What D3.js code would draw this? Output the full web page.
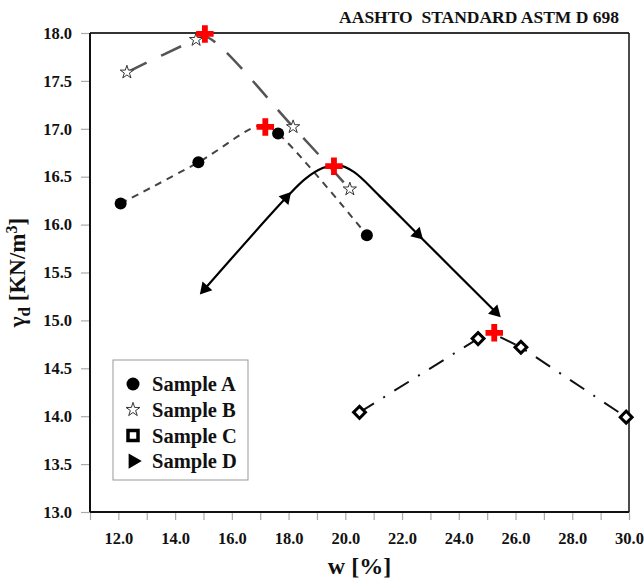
<!DOCTYPE html>
<html>
<head>
<meta charset="utf-8">
<script src="https://cdn.jsdelivr.net/npm/d3@7"></script>
<style>
  body { margin: 0; background: #fff; }
</style>
</head>
<body>
<div id="chart"></div>
<script>
// measured points (w %, dry unit weight kN/m3)
const sampleNames = ["Sample A", "Sample B", "Sample C", "Sample D"];
const wA = [12.08, 14.82, 17.63, 20.76];
const gA = [16.22, 16.65, 16.95, 15.89];
const wB = [12.30, 14.74, 18.16, 20.16];
const gB = [17.59, 17.93, 17.02, 16.37];
const wC = [20.50, 24.68, 26.19, 29.90];
const gC = [14.04, 14.81, 14.72, 13.99];
const wD = [15.05, 17.91, 22.55, 25.29];
const gD = [15.33, 16.28, 15.90, 15.09];

// compaction curves
const curveAw = [12.08, 14.82, 17.10, 17.63, 20.76];
const curveAg = [16.22, 16.65, 17.04, 16.95, 15.89];
const curveBw = [12.30, 14.74, 15.10, 18.16, 20.16];
const curveBg = [17.59, 17.93, 17.96, 17.02, 16.37];
const curveCw = [20.50, 24.68, 25.15, 26.19, 29.90];
const curveCg = [14.04, 14.81, 14.87, 14.72, 13.99];
const curveDw = [15.05, 17.91, 18.60, 19.20, 19.75, 20.30, 21.20, 22.55, 25.29];
const curveDg = [15.33, 16.28, 16.48, 16.59, 16.62, 16.55, 16.30, 15.90, 15.09];

// optimum points (red crosses)
const peakW = [17.18, 15.05, 25.25, 19.60];
const peakG = [17.02, 17.99, 14.87, 16.61];

const xTicks = d3.range(11, 30.01, 1);
const xLabels = d3.range(12, 30.01, 2);
const yTicks = d3.range(13, 18.01, 0.5);

const FONT = '"Liberation Serif", Tinos, "Times New Roman", Times, serif';

const margin = { top: 33, right: 15, bottom: 67, left: 90 },
    width = 644 - margin.left - margin.right,
    height = 579 - margin.top - margin.bottom;

const svg = d3.select("#chart")
    .append("svg")
    .attr("width", 644)
    .attr("height", 579)
    .attr("font-family", FONT)
    .attr("font-weight", "bold");

const g = svg.append("g")
    .attr("transform", `translate(${margin.left},${margin.top})`);

const x = d3.scaleLinear().domain([11, 30]).range([0, width]);
const y = d3.scaleLinear().domain([13, 18]).range([height, 0]);

// axes
const xAxis = d3.axisBottom(x).tickValues(xTicks).tickSize(8)
    .tickFormat(d => xLabels.includes(d) ? d3.format(".1f")(d) : "");
const yAxis = d3.axisLeft(y).tickValues(yTicks).tickSize(9).tickFormat(d3.format(".1f"));

const gx = g.append("g").attr("transform", `translate(0,${height})`).call(xAxis);
const gy = g.append("g").call(yAxis);
[gx, gy].forEach(a => {
    a.attr("font-family", FONT).attr("font-size", 16);
    a.select(".domain").remove();
    a.selectAll(".tick line").attr("stroke", "#aaa").attr("stroke-width", 1.2);
    a.selectAll(".tick text").attr("fill", "#111")
        .style("font-family", FONT).style("font-weight", "bold").style("font-size", "16.5px");
});
gx.selectAll(".tick text").attr("dy", "1.3em");
gy.selectAll(".tick text").attr("x", -18);

// frame
g.append("line").attr("x1", 0).attr("x2", width).attr("y1", 0).attr("y2", 0)
    .attr("stroke", "#333").attr("stroke-width", 2);
g.append("line").attr("x1", width).attr("x2", width).attr("y1", 0).attr("y2", height)
    .attr("stroke", "#111").attr("stroke-width", 1.5);
g.append("line").attr("x1", 0).attr("x2", width).attr("y1", height).attr("y2", height)
    .attr("stroke", "#111").attr("stroke-width", 2);
g.append("line").attr("x1", 0).attr("x2", 0).attr("y1", 0).attr("y2", height)
    .attr("stroke", "#111").attr("stroke-width", 2);

// lines
const zip = (ws, gs) => ws.map((w, i) => [w, gs[i]]);
const line = d3.line().x(d => x(d[0])).y(d => y(d[1]));
const smooth = d3.line().x(d => x(d[0])).y(d => y(d[1])).curve(d3.curveCatmullRom.alpha(0.5));

g.append("path").datum(zip(curveAw, curveAg)).attr("d", smooth)
    .attr("fill", "none").attr("stroke", "#444").attr("stroke-width", 2)
    .attr("stroke-dasharray", "7,6");
g.append("path").datum(zip(curveBw, curveBg)).attr("d", smooth)
    .attr("fill", "none").attr("stroke", "#555").attr("stroke-width", 2.5)
    .attr("stroke-dasharray", "22,16");
g.append("path").datum(zip(curveCw, curveCg)).attr("d", line)
    .attr("fill", "none").attr("stroke", "#111").attr("stroke-width", 2)
    .attr("stroke-dasharray", "17,11,2,11");
const ptsD = zip(curveDw, curveDg);
g.append("path").datum(ptsD).attr("d", smooth)
    .attr("fill", "none").attr("stroke", "#000").attr("stroke-width", 2.2);

// markers
g.selectAll(".ptA").data(zip(wA, gA)).join("circle")
    .attr("cx", d => x(d[0])).attr("cy", d => y(d[1])).attr("r", 6)
    .attr("fill", "#000");

const star = d3.symbol().type(d3.symbolStar).size(55);
g.selectAll(".ptB").data(zip(wB, gB)).join("path")
    .attr("d", star)
    .attr("transform", d => `translate(${x(d[0])},${y(d[1])})`)
    .attr("fill", "#fff").attr("stroke", "#333").attr("stroke-width", 1);

const square = d3.symbol().type(d3.symbolSquare).size(70);
g.selectAll(".ptC").data(zip(wC, gC)).join("path")
    .attr("d", square)
    .attr("transform", d => `translate(${x(d[0])},${y(d[1])}) rotate(45)`)
    .attr("fill", "#fff").attr("stroke", "#000").attr("stroke-width", 3);

// triangles follow the direction of the curve
const tri = d3.symbol().type(d3.symbolTriangle).size(75);
function angleAt(w) {
    const i = curveDw.indexOf(w);
    const a = i === 0 ? ptsD[1] : ptsD[i - 1];
    const b = i === 0 ? ptsD[0] : ptsD[i];
    return Math.atan2(y(b[1]) - y(a[1]), x(b[0]) - x(a[0])) * 180 / Math.PI;
}
g.selectAll(".ptD").data(zip(wD, gD)).join("path")
    .attr("d", tri)
    .attr("transform", d => `translate(${x(d[0])},${y(d[1])}) rotate(${angleAt(d[0]) + 90})`)
    .attr("fill", "#000");

// optimum crosses
const cross = d3.symbol().type(d3.symbolCross).size(170);
g.selectAll(".peak").data(zip(peakW, peakG)).join("path")
    .attr("d", cross)
    .attr("transform", d => `translate(${x(d[0])},${y(d[1])})`)
    .attr("fill", "#ff0000");

// legend
const legend = svg.append("g").attr("transform", "translate(113,360)");
legend.append("rect").attr("width", 135).attr("height", 120)
    .attr("fill", "#fff").attr("stroke", "#999").attr("stroke-width", 1);
const rows = legend.selectAll(".row").data(sampleNames).join("g")
    .attr("transform", (d, i) => `translate(20,${24 + i * 25.7})`);
rows.filter((d, i) => i === 0).append("circle").attr("r", 6.5).attr("fill", "#000");
rows.filter((d, i) => i === 1).append("path").attr("d", d3.symbol().type(d3.symbolStar).size(60))
    .attr("fill", "#fff").attr("stroke", "#333").attr("stroke-width", 1);
rows.filter((d, i) => i === 2).append("path").attr("d", d3.symbol().type(d3.symbolSquare).size(100))
    .attr("fill", "#fff").attr("stroke", "#000").attr("stroke-width", 3.5);
rows.filter((d, i) => i === 3).append("path").attr("d", d3.symbol().type(d3.symbolTriangle).size(100))
    .attr("transform", "rotate(90)").attr("fill", "#000");
rows.append("text").attr("x", 19).attr("dy", "0.35em")
    .style("font-size", "20.5px").attr("fill", "#111").text(d => d);

// titles
svg.append("text").attr("x", 619).attr("y", 23).attr("text-anchor", "end")
    .style("font-size", "17.5px").style("white-space", "pre").attr("fill", "#111")
    .text("AASHTO  STANDARD ASTM D 698");

svg.append("text").attr("x", margin.left + width / 2).attr("y", 574)
    .attr("text-anchor", "middle").style("font-size", "24px").attr("fill", "#111")
    .text("w [%]");

const yl = svg.append("text")
    .attr("transform", `translate(25,${margin.top + height / 2}) rotate(-90)`)
    .attr("text-anchor", "middle").style("font-size", "23px").attr("fill", "#111");
yl.append("tspan").text("γ");
yl.append("tspan").attr("dy", 5).style("font-size", "17px").text("d");
yl.append("tspan").attr("dy", -5).text(" [KN/m");
yl.append("tspan").attr("dy", -8).style("font-size", "16px").text("3");
yl.append("tspan").attr("dy", 8).text("]");
</script>
</body>
</html>
